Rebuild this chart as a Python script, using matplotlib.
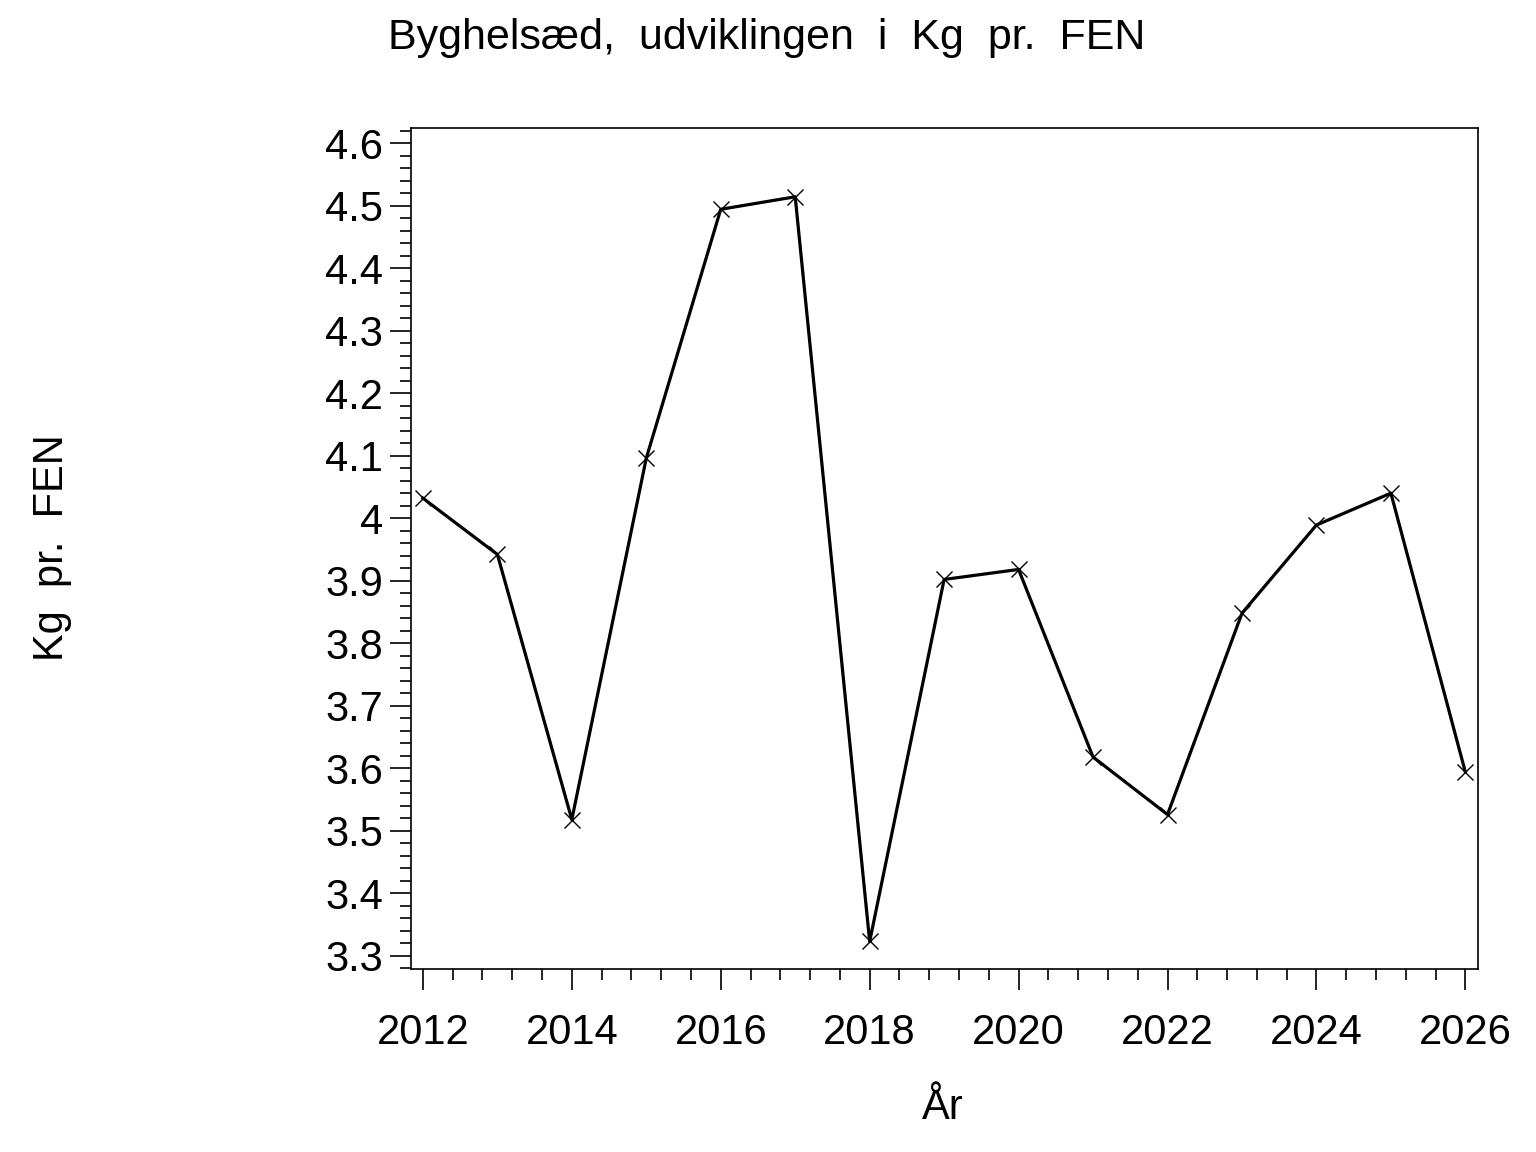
import matplotlib
matplotlib.use('Agg')
import matplotlib.pyplot as plt
from matplotlib.ticker import MultipleLocator, FuncFormatter

years = [2012, 2013, 2014, 2015, 2016, 2017, 2018, 2019, 2020, 2021, 2022, 2023, 2024, 2025, 2026]
kg_per_fen = [4.032, 3.942, 3.518, 4.096, 4.494, 4.514, 3.323, 3.902, 3.918, 3.618, 3.526, 3.848, 3.989, 4.040, 3.594]

plt.rcParams['font.family'] = ['Liberation Sans', 'DejaVu Sans']

fig = plt.figure(figsize=(15.36, 11.52), dpi=100)
ax = fig.add_axes([411 / 1536, 1 - 969 / 1152, (1478 - 411) / 1536, (969 - 128) / 1152])

ax.plot(years, kg_per_fen, color='black', linewidth=2.3, marker='x', markersize=12,
        markeredgewidth=1)

ax.set_xlim(2011.84, 2026.17)
ax.set_ylim(3.279, 4.624)

ax.xaxis.set_major_locator(MultipleLocator(2))
ax.xaxis.set_minor_locator(MultipleLocator(0.4))
ax.yaxis.set_major_locator(MultipleLocator(0.1))
ax.yaxis.set_minor_locator(MultipleLocator(0.02))
ax.yaxis.set_major_formatter(FuncFormatter(lambda v, p: ('%.1f' % v).rstrip('0').rstrip('.')))

ax.tick_params(axis='both', which='major', length=15, width=1.2, labelsize=30, color='black')
ax.tick_params(axis='both', which='minor', length=8, width=1.2)
ax.tick_params(axis='x', pad=17)
ax.tick_params(axis='y', pad=5)

for s in ax.spines.values():
    s.set_linewidth(1.2)

fig.text(767 / 1536, 1 - 38 / 1152, 'Byghelsæd,  udviklingen  i  Kg  pr.  FEN',
         ha='center', va='center', fontsize=31)
fig.text(52 / 1536, 1 - 548 / 1152, 'Kg  pr.  FEN', rotation=90,
         ha='center', va='center', fontsize=30)
fig.text(943 / 1536, 1 - 1108 / 1152, 'År', ha='center', va='center', fontsize=30)

fig.savefig('out.png', dpi=100)
